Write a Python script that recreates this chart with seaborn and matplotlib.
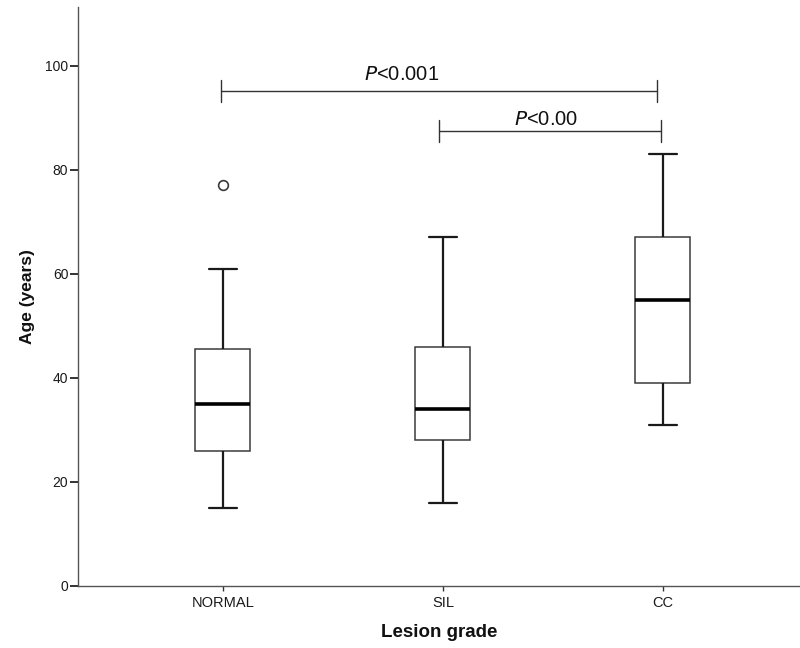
import matplotlib
matplotlib.use("Agg")
import matplotlib.pyplot as plt
import seaborn as sns
import pandas as pd

# ---- data (sample values reproducing the box summaries) ----
categories = ["NORMAL", "SIL", "CC"]
normal_ages = [15, 20, 26, 31, 35, 40, 45.5, 61, 77]
sil_ages = [16, 22, 28, 31, 34, 40, 46, 55, 67]
cc_ages = [31, 35, 39, 47, 55, 61, 67, 75, 83]
y_ticks = [0, 20, 40, 60, 80, 100]
p_labels = ["P<0.001", "P<0.00"]

df = pd.DataFrame({
    "grade": (["NORMAL"] * len(normal_ages) + ["SIL"] * len(sil_ages)
              + ["CC"] * len(cc_ages)),
    "age": normal_ages + sil_ages + cc_ages,
})

sns.set_style("white")
plt.rcParams["font.family"] = ["Liberation Sans", "DejaVu Sans"]

fig = plt.figure(figsize=(8.0, 6.48), dpi=100)
ax = fig.add_axes([0.0975, 0.0957, 0.9025, 0.8935])

sns.boxplot(
    data=df, x="grade", y="age", order=categories, ax=ax,
    width=0.25, color="white", whis=1.5, saturation=1,
    boxprops=dict(edgecolor="#3a3a3a", linewidth=1.1, facecolor="white"),
    whiskerprops=dict(color="#1a1a1a", linewidth=1.6),
    capprops=dict(color="#1a1a1a", linewidth=1.6),
    medianprops=dict(color="black", linewidth=2.6),
    flierprops=dict(marker="o", markersize=7, markerfacecolor="none",
                    markeredgecolor="#3a3a3a", markeredgewidth=1.2),
)

ax.set_xlim(-0.659, 2.623)
ax.set_ylim(0, 111.3)
ax.set_yticks(y_ticks)
ax.set_yticklabels([str(t) for t in y_ticks])

for side in ["top", "right"]:
    ax.spines[side].set_visible(False)
for side in ["left", "bottom"]:
    ax.spines[side].set_color("#555555")
    ax.spines[side].set_linewidth(1.0)

ax.tick_params(axis="y", which="both", left=True, length=6, width=1.4,
               color="#333333", labelsize=10, pad=1, labelcolor="#1a1a1a")
ax.tick_params(axis="x", which="both", bottom=True, length=3.5, width=1.0,
               color="#333333", labelsize=10.5, pad=4, labelcolor="#1a1a1a")

ax.set_xlabel("Lesion grade", fontsize=13.5, fontweight="bold", labelpad=10,
              color="#111111")
ax.set_ylabel("Age (years)", fontsize=12.5, fontweight="bold", labelpad=7,
              color="#111111")

# significance brackets
def bracket(x0, x1, y, h=2.1):
    ax.plot([x0, x1], [y, y], color="#333333", lw=1.0)
    ax.plot([x0, x0], [y - h, y + h], color="#333333", lw=1.0)
    ax.plot([x1, x1], [y - h, y + h], color="#333333", lw=1.0)

bracket(-0.01, 1.975, 95.2)
bracket(0.98, 1.99, 87.4)

def ptext(x, y, s):
    ax.text(x, y, r"$\it{P}$" + s[1:], ha="center", va="center",
            fontsize=14.5, color="#111111")

ptext(0.81, 98.3, p_labels[0])
ptext(1.47, 89.6, p_labels[1])

fig.savefig("out.png", dpi=100)
